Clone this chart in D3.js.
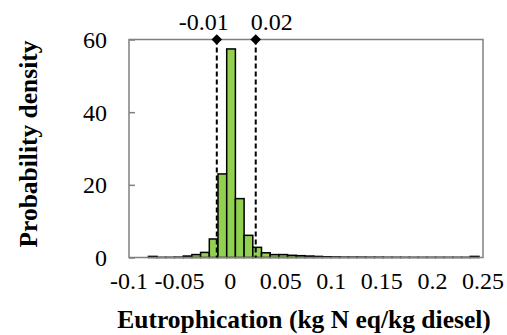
<!DOCTYPE html>
<head>
    <meta charset="utf-8">
    <title>Eutrophication histogram</title>
    <script type="text/javascript" src="https://d3js.org/d3.v7.min.js"></script>
    <style>
        body { margin: 0; background: #fff; }
    </style>
</head>
<body>
<div id="container"></div>

<script>
    //-----------------------------DATA-----------------------------//
    // lower edge of each histogram bin (kg N eq/kg diesel)
    const binStart = [-0.0808, -0.0722, -0.0636, -0.0550, -0.0464, -0.0378, -0.0292, -0.0206, -0.0120,
        -0.0034, 0.0052, 0.0138, 0.0224, 0.0310, 0.0396, 0.0482, 0.0568, 0.0654, 0.0740,
        0.0826, 0.0912, 0.0998, 0.1084, 0.1170, 0.1256, 0.1342, 0.1428, 0.1514, 0.1600,
        0.1686, 0.1772, 0.1858, 0.1944, 0.2030, 0.2116, 0.2202, 0.2288, 0.2374];
    const binWidth = 0.0086;
    const density = [0.3, 0.05, 0.05, 0.1, 0.4, 0.8, 1.4, 5.1, 23.0,
        57.4, 16.2, 6.1, 2.8, 1.3, 0.8, 0.8, 0.6, 0.5, 0.4,
        0.3, 0.2, 0.15, 0.1, 0.1, 0.1, 0.08, 0.08, 0.06, 0.06,
        0.05, 0.05, 0.05, 0.05, 0.05, 0.05, 0.05, 0.05, 0.3];

    // confidence bounds shown as diamonds
    const boundX = [-0.0132, 0.0253];
    const boundLabels = ["-0.01", "0.02"];

    const xTicks = [-0.1, -0.05, 0, 0.05, 0.1, 0.15, 0.2, 0.25];
    const xTickLabels = ["-0.1", "-0.05", "0", "0.05", "0.1", "0.15", "0.2", "0.25"];
    const yTicks = [0, 20, 40, 60];

    const serif = "Liberation Serif, Tinos, Times New Roman, Times, DejaVu Serif, serif";

    //-----------------------------SVG------------------------------//
    const width = 507;
    const height = 335;
    const margin = {top: 39.5, right: 24, bottom: 77.5, left: 129};
    const innerW = width - margin.left - margin.right;
    const innerH = height - margin.top - margin.bottom;

    const svg = d3.select("div#container").append("svg")
        .attr("width", width)
        .attr("height", height)
        .attr("font-family", serif);

    const g = svg.append("g")
        .attr("transform", "translate(" + margin.left + "," + margin.top + ")");

    //----------------------------SCALES----------------------------//
    const xScale = d3.scaleLinear().domain([-0.1, 0.25]).range([0, innerW]);
    const yScale = d3.scaleLinear().domain([0, 60]).range([innerH, 0]);

    //-----------------------------BARS-----------------------------//
    g.selectAll("rect.bin")
        .data(density)
        .enter()
        .append("rect")
        .attr("class", "bin")
        .attr("x", function(d, i) { return xScale(binStart[i]); })
        .attr("width", function(d, i) { return xScale(binStart[i] + binWidth) - xScale(binStart[i]); })
        .attr("y", function(d) { return yScale(d); })
        .attr("height", function(d) { return yScale(0) - yScale(d); })
        .style("fill", "#92d050")
        .style("stroke", "#000")
        .style("stroke-width", 1.5);

    //-----------------------------FRAME----------------------------//
    g.append("rect")
        .attr("x", 0).attr("y", 0)
        .attr("width", innerW).attr("height", innerH)
        .style("fill", "none")
        .style("stroke", "#808080")
        .style("stroke-width", 1.5);

    //-----------------------------AXES-----------------------------//
    const yAxis = d3.axisRight(yScale)
        .tickValues(yTicks)
        .tickSize(6)
        .tickFormat("");
    const ya = g.append("g").call(yAxis);
    ya.select(".domain").remove();
    ya.selectAll("line").style("stroke", "#808080").style("stroke-width", 1.5);

    g.selectAll("text.ylab")
        .data(yTicks)
        .enter()
        .append("text")
        .attr("class", "ylab")
        .attr("x", -22)
        .attr("y", function(d) { return yScale(d); })
        .attr("dy", "0.35em")
        .attr("text-anchor", "end")
        .attr("font-size", 24)
        .text(function(d) { return d; });

    g.selectAll("text.xlab")
        .data(xTicks)
        .enter()
        .append("text")
        .attr("class", "xlab")
        .attr("x", function(d) { return xScale(d); })
        .attr("y", innerH + 31)
        .attr("text-anchor", "middle")
        .attr("font-size", 24)
        .text(function(d, i) { return xTickLabels[i]; });

    //--------------------------BOUND LINES-------------------------//
    g.selectAll("line.bound")
        .data(boundX)
        .enter()
        .append("line")
        .attr("class", "bound")
        .attr("x1", function(d) { return xScale(d); })
        .attr("x2", function(d) { return xScale(d); })
        .attr("y1", yScale(60))
        .attr("y2", yScale(0))
        .style("stroke", "#000")
        .style("stroke-width", 2)
        .style("stroke-dasharray", "5,3");

    g.selectAll("path.diamond")
        .data(boundX)
        .enter()
        .append("path")
        .attr("class", "diamond")
        .attr("d", d3.symbol(d3.symbolSquare, 56))
        .attr("transform", function(d) { return "translate(" + xScale(d) + "," + yScale(60) + ") rotate(45)"; })
        .style("fill", "#000");

    g.selectAll("text.bound-label")
        .data(boundX)
        .enter()
        .append("text")
        .attr("class", "bound-label")
        .attr("x", function(d, i) { return xScale(d) + (i === 0 ? 12 : -5); })
        .attr("y", -10)
        .attr("text-anchor", function(d, i) { return i === 0 ? "end" : "start"; })
        .attr("font-size", 24)
        .text(function(d, i) { return boundLabels[i]; });

    //----------------------------TITLES----------------------------//
    svg.append("text")
        .attr("x", 304)
        .attr("y", 328)
        .attr("text-anchor", "middle")
        .attr("font-size", 25.5)
        .attr("font-weight", "bold")
        .text("Eutrophication (kg N eq/kg diesel)");

    svg.append("text")
        .attr("transform", "translate(37,144) rotate(-90)")
        .attr("text-anchor", "middle")
        .attr("font-size", 25.5)
        .attr("font-weight", "bold")
        .text("Probability density");
</script>
</body>
